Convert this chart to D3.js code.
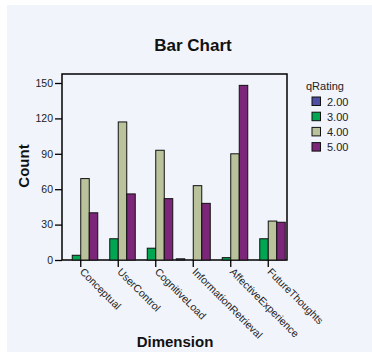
<!DOCTYPE html>
<html><head><meta charset="utf-8">
<script src="https://cdn.jsdelivr.net/npm/d3@7"></script>
<style>body{margin:0;background:#fff;}svg{display:block;font-family:Arial,"Liberation Sans",sans-serif;}</style>
</head><body><svg id="c" width="372" height="352"></svg>
<script>
const categories = ["Conceptual","UserControl","CognitiveLoad","InformationRetrieval","AffectiveExperience","FutureThoughts"];
const seriesNames = ["2.00","3.00","4.00","5.00"];
const s200 = [0,0,0,1,0,0];
const s300 = [4,18,10,0,2,18];
const s400 = [69,117,93,63,90,33];
const s500 = [40,56,52,48,148,32];
const seriesValues = [s200,s300,s400,s500];
const colors = ["#4F4FA3","#00A651","#BAC29C","#7B2678"];
const yTicks = [0,30,60,90,120,150];

const svg = d3.select("#c");
svg.append("rect").attr("x",7).attr("y",5).attr("width",365).attr("height",347).attr("fill","#F1F4FB");

const L=62,R=287,T=74,B=260;
const x = d3.scaleBand().domain(categories).range([L,R]).padding(0);
const y = d3.scaleLinear().domain([0,150]).range([B,B-177]);
const inner = d3.scaleBand().domain(seriesNames).range([0,34]);

svg.append("rect").attr("x",L).attr("y",T).attr("width",R-L).attr("height",B-T)
  .attr("fill","none").attr("stroke","#000").attr("stroke-width",1.5);

categories.forEach((c,i)=>{
  const cx = x(c)+x.bandwidth()/2 - 17;
  seriesNames.forEach((s,j)=>{
    const v = seriesValues[j][i];
    if(v<=0) return;
    svg.append("rect").attr("x",cx+inner(s)).attr("y",y(v)).attr("width",inner.bandwidth()).attr("height",B-y(v))
      .attr("fill",colors[j]).attr("stroke","#111").attr("stroke-width",1);
  });
});

const ya = svg.append("g").attr("transform",`translate(${L},0)`)
  .call(d3.axisLeft(y).tickValues(yTicks).tickSize(7).tickPadding(2).tickFormat(d3.format("d")));
ya.select(".domain").remove();
ya.selectAll("line").attr("stroke","#000").attr("stroke-width",1.3);
ya.selectAll("text").attr("font-size",10.5).attr("fill","#222").attr("font-family","Arial,'Liberation Sans',sans-serif");

const xa = svg.append("g").attr("transform",`translate(0,${B})`)
  .call(d3.axisBottom(x).tickSize(7).tickFormat(""));
xa.select(".domain").remove();
xa.selectAll("line").attr("stroke","#000").attr("stroke-width",1.3);
categories.forEach(c=>{
  const tx = x(c)+x.bandwidth()/2;
  svg.append("text").attr("transform",`translate(${tx+1},${B+10}) rotate(45)`)
    .attr("font-size",10.5).attr("fill","#222").attr("dy","0.35em").text(c);
});

svg.append("text").attr("x",193).attr("y",51).attr("text-anchor","middle")
  .attr("font-size",17).attr("font-weight","bold").attr("fill","#111").text("Bar Chart");
svg.append("text").attr("transform","translate(29,166) rotate(-90)").attr("text-anchor","middle")
  .attr("font-size",15).attr("font-weight","bold").attr("fill","#111").text("Count");
svg.append("text").attr("x",175).attr("y",347).attr("text-anchor","middle")
  .attr("font-size",15).attr("font-weight","bold").attr("fill","#111").text("Dimension");

svg.append("text").attr("x",306).attr("y",90).attr("font-size",11).attr("fill","#222").text("qRating");
seriesNames.forEach((s,j)=>{
  const yy = 97+j*15.2;
  svg.append("rect").attr("x",312).attr("y",yy).attr("width",8.5).attr("height",8.5)
    .attr("fill",colors[j]).attr("stroke","#111").attr("stroke-width",1);
  svg.append("text").attr("x",327).attr("y",yy+8.5).attr("font-size",11).attr("fill","#222").text(s);
});
</script></body></html>
